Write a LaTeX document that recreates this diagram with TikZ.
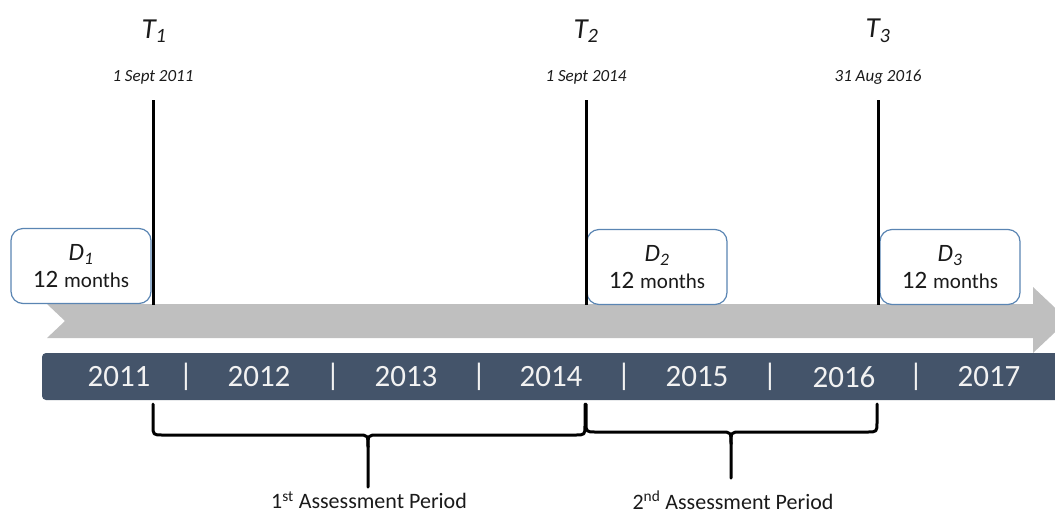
\documentclass[tikz,border=0pt]{standalone}
\usepackage{fontspec}
\setmainfont{Carlito}
\definecolor{barblue}{HTML}{44546A}
\definecolor{arrowgray}{HTML}{BFBFBF}
\definecolor{boxedge}{HTML}{5A85B3}
\definecolor{ink}{HTML}{1A1A1A}
\newcommand{\fsz}[1]{\fontsize{#1}{1.2\dimexpr#1pt\relax}\selectfont}
\newcommand{\dtext}[1]{\fsz{25}\textit{D}\textsubscript{\textit{#1}}\\[6pt]{\fsz{25}12}\hspace{6pt}{\fsz{21}months}}
\begin{document}
\begin{tikzpicture}[x=1pt,y=-1pt,
  tlabel/.style={text=ink, font=\fsz{29}\itshape, inner sep=0pt},
  datelabel/.style={text=ink, font=\fsz{17}\itshape, inner sep=0pt},
  yearlabel/.style={text=white!95!black, font=\fsz{31}, inner sep=0pt, anchor=center},
  dbox/.style={draw=boxedge, line width=1.2pt, fill=white, rounded corners=12pt,
    minimum width=140pt, minimum height=75pt, align=center, text=ink, inner sep=0pt},
  marker/.style={line width=3pt, draw=black},
  brace/.style={line width=3pt, draw=black, line join=round, line cap=round},
  periodlabel/.style={text=ink, font=\fsz{22}, inner sep=0pt}]
\useasboundingbox (0,0) rectangle (1055,515);

% grey time arrow with notched tail
\fill[arrowgray] (47,304) -- (1033,304) -- (1033,287) -- (1068,320) -- (1033,353)
  -- (1033,338) -- (47,338) -- (65,321) -- cycle;

% dark year bar
\fill[barblue, rounded corners=4pt] (42,353) rectangle (1070,400);
\foreach \yr/\x in {2011/119, 2012/259, 2013/406, 2014/551, 2015/697, 2016/844, 2017/989}
  \node[yearlabel] (y\yr) at (\x,377) {\yr};
\foreach \x [count=\i] in {186, 333, 479, 624, 770, 916}
  \node[yearlabel] (sep\i) at (\x,377) {|};

% deadline boxes
\node[dbox] (d1) at (81,266) {\dtext{1}};
\node[dbox] (d2) at (657,267) {\dtext{2}};
\node[dbox] (d3) at (950,267) {\dtext{3}};

% time points
\node[tlabel] (t1) at (154,31) {T\textsubscript{1}};
\node[tlabel] (t2) at (586,31) {T\textsubscript{2}};
\node[tlabel] (t3) at (878,31) {T\textsubscript{3}};
\node[datelabel] (t1date) at (153,77) {1 Sept 2011};
\node[datelabel] (t2date) at (586,77) {1 Sept 2014};
\node[datelabel] (t3date) at (878,77) {31 Aug 2016};

\coordinate (m1top) at (153,100); \coordinate (m1bot) at (153,305);
\coordinate (m2top) at (586,100); \coordinate (m2bot) at (586,305);
\coordinate (m3top) at (878,100); \coordinate (m3bot) at (878,305);
\draw[marker] (m1top) -- (m1bot);
\draw[marker] (m2top) -- (m2bot);
\draw[marker] (m3top) -- (m3bot);

% braces marking the assessment periods
\coordinate (b1l) at (153,404); \coordinate (b1r) at (585,404); \coordinate (b1tip) at (368,487);
\coordinate (b2l) at (586,404); \coordinate (b2r) at (877,404); \coordinate (b2tip) at (731,478);
\draw[brace] (b1l) -- (153,425) .. controls (153,435) .. (163,435) -- (358,435)
  .. controls (368,435) .. (368,447) -- (b1tip);
\draw[brace] (b1r) -- (585,425) .. controls (585,435) .. (575,435) -- (378,435)
  .. controls (368,435) .. (368,447);
\draw[brace] (b2l) -- (586,422) .. controls (586,432) .. (596,432) -- (721,432)
  .. controls (731,432) .. (731,444) -- (b2tip);
\draw[brace] (b2r) -- (877,422) .. controls (877,432) .. (867,432) -- (741,432)
  .. controls (731,432) .. (731,444);

\node[periodlabel] (p1) at (369,500) {1\textsuperscript{st} Assessment Period};
\node[periodlabel] (p2) at (733,500) {2\textsuperscript{nd} Assessment Period};
\end{tikzpicture}
\end{document}
